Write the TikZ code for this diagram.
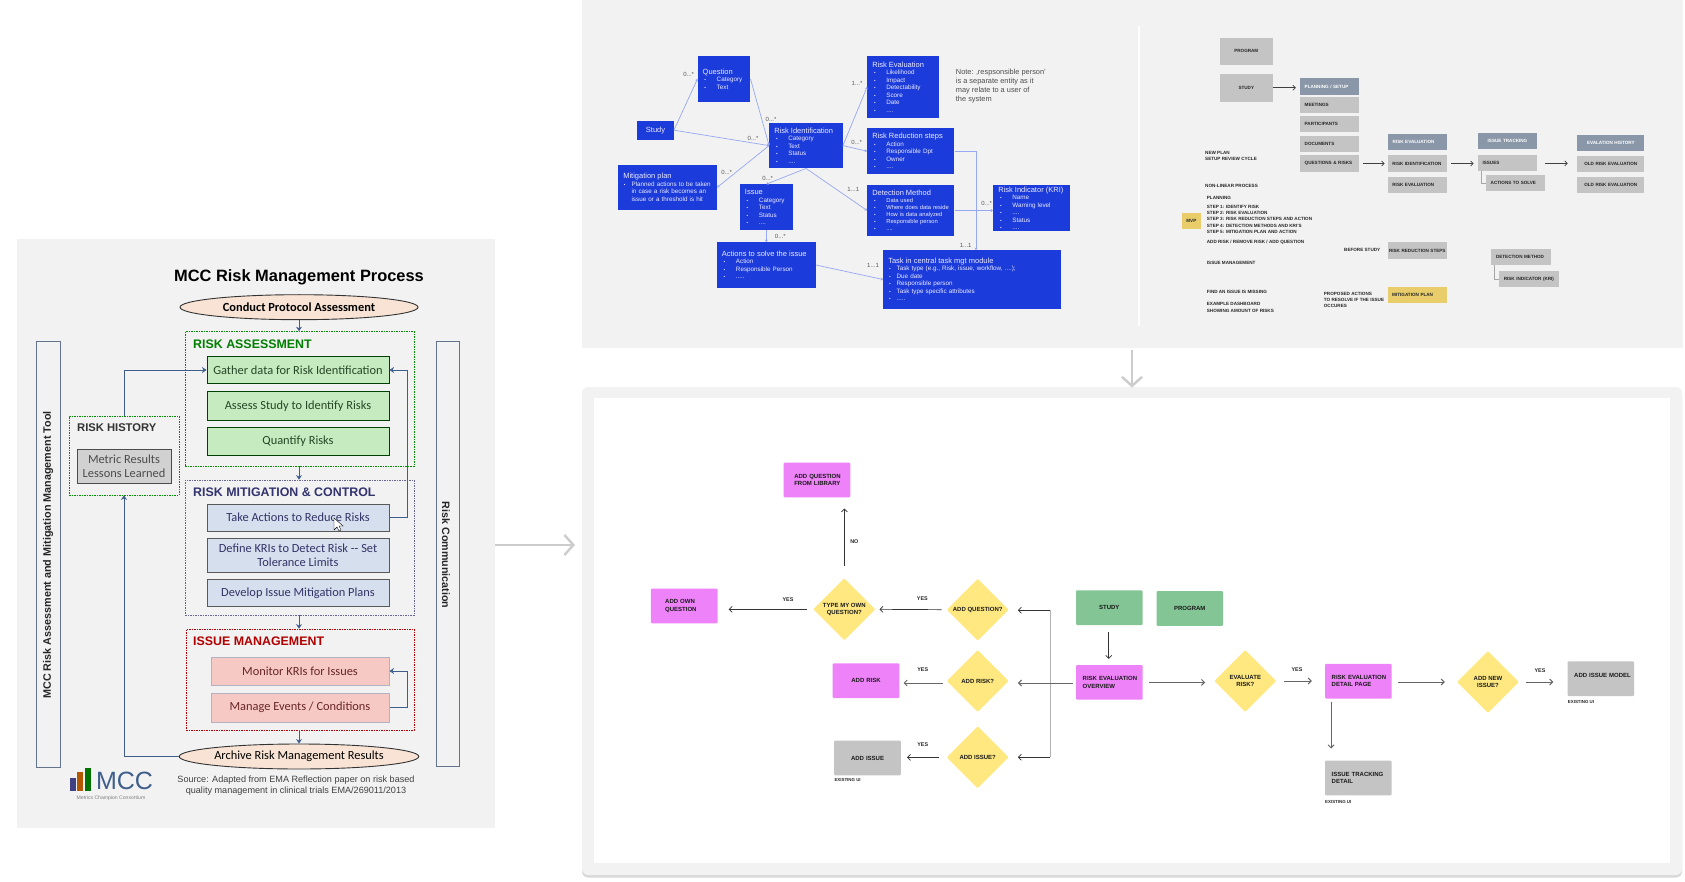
\documentclass[tikz,border=0pt]{standalone}
\usepackage{fontspec}
\setmainfont{Liberation Sans}
\newfontfamily\calibrifont{Carlito}
\usepackage{tikz}
\usetikzlibrary{arrows.meta,shapes.geometric,shadows}
\definecolor{panelgray}{RGB}{242,242,242}
\definecolor{uglyblue}{RGB}{28,59,219}
\definecolor{linkblue}{RGB}{150,168,242}
\definecolor{tilegray}{RGB}{196,196,196}
\definecolor{headslate}{RGB}{138,151,168}
\definecolor{softyellow}{RGB}{232,205,106}
\definecolor{softpink}{RGB}{238,130,248}
\definecolor{softgreen}{RGB}{131,197,148}
\definecolor{softsand}{RGB}{255,232,128}
\definecolor{mccblue}{RGB}{63,94,140}
\definecolor{mccbar}{RGB}{100,115,140}
\definecolor{mccgreen}{RGB}{198,235,192}
\definecolor{mccsteel}{RGB}{213,223,238}
\definecolor{mccred}{RGB}{246,201,197}
\definecolor{mccsand}{RGB}{248,227,212}
\newcommand{\ttl}[1]{{\fontsize{7.5}{8}\selectfont #1}}
\newcommand{\dotb}{{\fontsize{4.6}{4}\selectfont\textbullet}}
\newcommand{\itm}[1]{\hspace*{1.7pt}\makebox[12.3pt][l]{\dotb}#1}
\newcommand{\itmb}[1]{\hspace*{0.7pt}\makebox[7.6pt][l]{\dotb}#1}
\tikzset{
  entity/.style={fill=uglyblue, text=white!92!blue, inner xsep=5pt, inner ysep=0pt, align=left,
                 font=\fontsize{6.3}{7.5}\selectfont},
  link/.style={-{Stealth[length=2.4pt,width=3pt]}, linkblue, line width=0.7pt},
  mult/.style={font=\fontsize{6}{7}\selectfont, text=black!65, inner sep=0pt},
  tile/.style={fill=tilegray, text=black!85, inner xsep=4.7pt, inner ysep=0pt, minimum height=16.3pt,
               text width=50pt, align=left, font=\fontsize{4.6}{6}\selectfont\bfseries},
  tilehead/.style={tile, fill=headslate, text=white},
  remark/.style={anchor=west, inner sep=0pt, text=black!85, align=left, font=\fontsize{4.6}{6.2}\selectfont\bfseries},
  thin arrow/.style={-{Straight Barb[length=2.5pt,width=5pt]}, black!75, line width=0.7pt},
  flowbox/.style={rounded corners=1pt, minimum width=66.6pt, minimum height=34.6pt, inner ysep=0pt, inner xsep=6.7pt,
                  text width=53.2pt, align=left, text=black!90, font=\fontsize{6}{7.3}\selectfont\bfseries},
  pagebox/.style={flowbox, fill=softpink},
  startbox/.style={flowbox, fill=softgreen, align=center},
  oldbox/.style={flowbox, fill=tilegray},
  decision/.style={diamond, aspect=1, rounded corners=1pt, fill=softsand, minimum width=62pt, minimum height=62pt,
                   inner sep=0pt, align=center, text=black!90, font=\fontsize{6}{7.3}\selectfont\bfseries},
  flowlink/.style={-{Straight Barb[length=3pt,width=6pt]}, black!80, line width=0.7pt},
  flowlinkgray/.style={flowlink, black!60, line width=1pt},
  yes/.style={font=\fontsize{5.4}{6}\selectfont\bfseries, text=black!85, inner sep=0pt},
  bigarrow/.style={-{Straight Barb[length=9pt,width=20pt]}, black!20, line width=2.4pt},
  stepbox/.style={draw=black!70, line width=1pt, minimum width=182pt, inner sep=0pt, align=center,
                  text=black!70, font=\calibrifont\fontsize{12.4}{14}\selectfont},
  greenbox/.style={stepbox, fill=mccgreen, draw=green!25!black, text=green!15!black!85},
  steelbox/.style={stepbox, fill=mccsteel, draw=black!65, text=blue!25!black!80},
  redbox/.style={stepbox, fill=mccred, draw=blue!20!black!30, text=red!30!black!85, minimum width=178pt},
  endcap/.style={ellipse, draw=black!80, line width=0.9pt, fill=mccsand, minimum width=238pt, minimum height=25pt,
                 inner sep=0pt, font=\calibrifont\fontsize{12.4}{14}\selectfont},
  zone/.style={draw, dash pattern=on 1.5pt off 1pt, line width=0.7pt, inner sep=0pt},
  zonehead/.style={anchor=west, inner sep=0pt, font=\fontsize{12.4}{14}\selectfont\bfseries},
  sidebar/.style={draw=mccbar, line width=1pt, inner sep=0pt},
  sidetext/.style={inner sep=0pt, font=\fontsize{10.8}{12}\selectfont\bfseries, text=black!85},
  mccarrow/.style={-{Stealth[length=4.5pt,width=6pt]}, mccblue, line width=0.8pt},
}
\begin{document}
\begin{tikzpicture}[x=1pt,y=-1pt]
\useasboundingbox (0,0) rectangle (1685,882);
\fill[white] (0,0) rectangle (1685,882);

\fill[panelgray] (17,239) rectangle (495,828);
\node[inner sep=0pt, font=\fontsize{16.4}{18}\selectfont\bfseries] (mcctitle) at (299,277.5) {MCC Risk Management Process};
\node[endcap] (conduct) at (299,307.2) {\textbf{Conduct Protocol Assessment}};
\node[zone, draw=green!55!black, minimum width=229pt, minimum height=134.5pt] (assess) at (299.5,398.8) {};
\node[zone, draw=blue!30!black!60, minimum width=229pt, minimum height=135pt] (mitig) at (299.5,547.5) {};
\node[zone, draw=red!70!black, minimum width=228pt, minimum height=101pt] (issuezone) at (300,679.5) {};
\node[zonehead, text=green!50!black] (assesshead) at (193,344.5) {RISK ASSESSMENT};
\node[zonehead, text=blue!30!black!80] (mitighead) at (193,492.5) {RISK MITIGATION \& CONTROL};
\node[zonehead, text=red!70!black] (issuehead) at (193,641.5) {ISSUE MANAGEMENT};
\node[greenbox, minimum height=27.6pt] (gather) at (298,370) {Gather data for Risk Identification};
\node[greenbox, minimum height=28.5pt] (studyrisks) at (298,406) {Assess Study to Identify Risks};
\node[greenbox, minimum height=28pt] (quantify) at (298,441.2) {Quantify Risks};
\node[steelbox, minimum height=27pt] (reduce) at (298,517.5) {Take Actions to Reduce Risks};
\node[steelbox, minimum height=33.5pt] (kris) at (298,555.3) {Define KRIs to Detect Risk -- Set\\Tolerance Limits};
\node[steelbox, minimum height=27pt] (plans) at (298,593) {Develop Issue Mitigation Plans};
\node[redbox, minimum height=28pt] (monitor) at (300,671) {Monitor KRIs for Issues};
\node[redbox, minimum height=29pt] (manage) at (300,707.5) {Manage Events / Conditions};
\node[endcap] (archive) at (299,756.5) {Archive Risk Management Results};
\node[zone, draw=green!55!black, minimum width=110pt, minimum height=79pt] (history) at (124,455.5) {};
\node[zonehead, text=black!80, font=\fontsize{11.2}{13}\selectfont\bfseries] (historyhead) at (77,428) {RISK HISTORY};
\node[stepbox, fill=black!18, minimum width=94pt, minimum height=34pt] (lessons) at (124,466.6) {Metric Results\\Lessons Learned};
\node[sidebar, minimum width=24pt, minimum height=426pt] (leftbar) at (48,554.5) {};
\node[sidebar, minimum width=23pt, minimum height=424.5pt] (rightbar) at (447.5,553.8) {};
\node[sidetext, rotate=90] (lefttext) at (48,555) {MCC Risk Assessment and Mitigation Management Tool};
\node[sidetext, rotate=-90, font=\fontsize{10.7}{12}\selectfont\bfseries] (righttext) at (446,555) {Risk Communication};
\foreach \a/\b in {conduct/assess, assess/mitig, mitig/issuezone, issuezone/archive}
  \draw[mccarrow] (\a.south -| conduct) -- (\b.north -| conduct);
\coordinate (historyup) at (gather.west -| history.north);
\coordinate (reducebend) at (407,517.5);
\coordinate (managebend) at (407,707.5);
\draw[mccarrow] (history.north) -- (historyup) -- (gather.west);
\draw[mccarrow] (reduce.east) -- (reducebend) -- (reducebend |- gather.east) -- (gather.east);
\draw[mccarrow] (manage.east) -- (managebend) -- (managebend |- monitor.east) -- (monitor.east);
\draw[mccarrow] (archive.west) -- (archive.west -| history.south) -- (history.south);
\draw[fill=white, line width=0.4pt, shift={(334,518)}] (0,0) -- (0,12) -- (3,9) -- (5,13) -- (7,12) -- (5,8) -- (9,8) -- cycle;
\fill[blue!35!black!75] (70,777.5) rectangle (76,791);
\fill[orange!70!black] (77,772) rectangle (83,791);
\fill[green!45!black] (85,767.5) rectangle (91,791);
\node[inner sep=0pt, text=mccblue, font=\fontsize{25}{26}\selectfont] (mcclogo) at (124.5,781) {MCC};
\node[inner sep=0pt, text=black!50, font=\fontsize{5.1}{6}\selectfont] (mccname) at (111,798) {Metrics Champion Consortium};
\node[inner sep=0pt, align=center, text=black!75, font=\fontsize{9.1}{11}\selectfont] (source) at (296,786) {Source: Adapted from EMA Reflection paper on risk based\\quality management in clinical trials EMA/269011/2013};

\coordinate (bigfrom) at (495,545);
\coordinate (bigto) at (575,545);
\draw[bigarrow] (bigfrom) -- (bigto);

\fill[panelgray] (582,0) rectangle (1683,348);
\draw[white, line width=2pt] (1139,26) -- (1139,326);
\node[entity, text width=42.6pt, minimum height=45.7pt] (question) at (724,78.9) {\ttl{Question}\\\itm{Category}\\\itm{Text}};
\node[entity, minimum width=36.4pt, minimum height=19pt, align=center, font=\fontsize{7.5}{8}\selectfont] (study) at (655.5,130.2) {Study};
\node[entity, text width=88.7pt, minimum height=45.3pt] (mitigation) at (667.6,187.4) {\ttl{Mitigation plan}\\\itmb{Planned actions to be taken}\\\hspace*{8.3pt}in case a risk becomes an\\\hspace*{8.3pt}issue or a threshold is hit};
\node[entity, text width=63.4pt, minimum height=45.3pt] (riskid) at (806,145.6) {\ttl{Risk Identification}\\\itm{Category}\\\itm{Text}\\\itm{Status}\\\itm{....}};
\node[entity, text width=42.7pt, minimum height=45.7pt] (issue) at (766.3,207.2) {\ttl{Issue}\\\itm{Category}\\\itm{Text}\\\itm{Status}\\\itm{....}};
\node[entity, text width=88.7pt, minimum height=45.4pt] (actions) at (766.3,265) {\ttl{Actions to solve the issue}\\\itm{Action}\\\itm{Responsible Person}\\\itm{.....}};
\node[entity, text width=62pt, minimum height=62pt] (riskeval) at (903.3,87) {\ttl{Risk Evaluation}\\\itm{Likelihood}\\\itm{Impact}\\\itm{Detectability}\\\itm{Score}\\\itm{Date}\\\itm{....}};
\node[entity, text width=77pt, minimum height=45.7pt] (reduction) at (910.8,151.2) {\ttl{Risk Reduction steps}\\\itm{Action}\\\itm{Responsible Dpt}\\\itm{Owner}\\\itm{....}};
\node[entity, text width=77pt, minimum height=51pt, font=\fontsize{5.8}{7}\selectfont] (detection) at (910.8,210.5) {\ttl{Detection Method}\\\itm{Data used}\\\itm{Where does data reside}\\\itm{How is data analyzed}\\\itm{Responsible person}\\\itm{....}};
\node[entity, text width=67pt, minimum height=46.3pt] (indicator) at (1031.8,208.2) {\ttl{Risk Indicator (KRI)}\\\itm{Name}\\\itm{Warning level}\\\itm{....}\\\itm{Status}\\\itm{....}};
\node[entity, text width=167.4pt, minimum height=58.4pt] (tasktool) at (972,279.5) {\ttl{Task in central task mgt module}\\\itmb{Task type (e.g., Risk, issue, workflow, ....);}\\\itmb{Due date}\\\itmb{Responsible person}\\\itmb{Task type specific attributes}\\\itmb{.....}};
\node[anchor=north west, inner sep=0pt, align=left, text=black!70, font=\fontsize{7.4}{9.1}\selectfont] (note) at (955.7,68.5) {Note: ‚respsonsible person’\\is a separate entity as it\\may relate to a user of\\the system};
\coordinate (reductionbend) at (976,151.2);
\coordinate (kritarget) at (detection.east -| indicator.west);
\draw[link] (study.east) -- (question.west);
\draw[link] (study.east) -- (riskid.west);
\draw[link] (question.east) -- (riskid.west);
\draw[link] (riskid.west) -- (mitigation.east);
\draw[link] (riskid.south) -- (issue.north);
\draw[link] (riskid.south) -- (detection.west);
\draw[link] (riskid.east) -- (riskeval.west);
\draw[link] (riskid.east) -- (reduction.west);
\draw[link] (issue.south) -- (actions.north);
\draw[link] (actions.east) -- (tasktool.west);
\draw[link] (reduction.east) -- (reductionbend) -- (reductionbend |- tasktool.north);
\draw[link] (detection.east) -- (kritarget);
\foreach \nm/\xpos/\ypos/\txt in {m1/688.7/74.3/{0...*}, m2/771/119.3/{0...*}, m3/753/138.7/{0...*}, m4/726.7/172.3/{0...*},
  m5/767.7/178.7/{0...*}, m6/780.3/236/{0...*}, m7/857/83.7/{1...*}, m8/856.7/142.7/{0...*}, m9/853.3/189.7/{1...1},
  m10/986.7/203.7/{0...*}, m11/965.7/245.3/{1...1}, m12/873/265.3/{1...1}}
  \node[mult] (\nm) at (\xpos,\ypos) {\txt};

\node[tile, align=center, text width=43.3pt, minimum height=27.4pt] (topprogram) at (1246.3,51.3) {PROGRAM};
\node[tile, align=center, text width=43.3pt, minimum height=27.7pt] (topstudy) at (1246.3,87.8) {STUDY};
\node[tilehead] (planning) at (1329.7,86.5) {PLANNING / SETUP};
\node[tile] (meetings) at (1329.7,104.7) {MEETINGS};
\node[tile] (participants) at (1329.7,124.2) {PARTICIPANTS};
\node[tile] (documents) at (1329.7,144) {DOCUMENTS};
\node[tile] (questionsrisks) at (1329.7,163.5) {QUESTIONS \& RISKS};
\node[tilehead] (evalhead) at (1417.7,142.2) {RISK EVALUATION};
\node[tile] (evalident) at (1417.4,163.5) {\mbox{RISK IDENTIFICATION}};
\node[tile] (evaleval) at (1417.4,184.7) {RISK EVALUATION};
\node[tilehead, align=center] (trackhead) at (1507.5,141.3) {ISSUE TRACKING};
\node[tile] (trackissues) at (1507.5,162.7) {ISSUES};
\node[tile] (tracksolve) at (1515.7,183.2) {ACTIONS TO SOLVE};
\node[tilehead, align=center, text width=57.6pt] (historyhead2) at (1610.8,143) {EVALATION HISTORY};
\node[tile, align=center, text width=57.6pt] (oldone) at (1610.8,164.3) {OLD RISK EVALUATION};
\node[tile, align=center, text width=57.6pt] (oldtwo) at (1610.8,184.8) {OLD RISK EVALUATION};
\node[tile, fill=softyellow, text width=9.9pt] (mvp) at (1191.3,221.2) {MVP};
\node[tile, inner xsep=1.5pt, text width=56.3pt] (topreduction) at (1417.2,250.5) {\mbox{RISK REDUCTION STEPS}};
\node[tile, fill=softyellow] (topmitigation) at (1417.2,295) {MITIGATION PLAN};
\node[tile] (topdetection) at (1521,256.8) {DETECTION METHOD};
\node[tile] (topindicator) at (1528.8,279) {\mbox{RISK INDICATOR (KRI)}};
\foreach \nm/\xpos/\ypos/\txt in {r1/1205/152.7/{NEW PLAN}, r2/1205/159/{SETUP REVIEW CYCLE}, r3/1205/186/{NON-LINEAR PROCESS},
  r4/1206.7/198/{PLANNING}, r5/1206.7/207.3/{STEP 1: IDENTIFY RISK}, r6/1206.7/213.3/{STEP 2: RISK EVALUATION},
  r7/1206.7/219.3/{STEP 3: RISK REDUCTION STEPS AND ACTION}, r8/1206.7/225.7/{STEP 4: DETECTION METHODS AND KRI'S},
  r9/1206.7/231.7/{STEP 5: MITIGATION PLAN AND ACTION}, r10/1206.7/242/{ADD RISK / REMOVE RISK / ADD QUESTION},
  r11/1206.7/263.3/{ISSUE MANAGEMENT}, r12/1206.7/292.3/{FIND AN ISSUE IS MISSING}, r13/1206.7/304.3/{EXAMPLE DASHBOARD},
  r14/1206.7/310.7/{SHOWING AMOUNT OF RISKS}, r15/1344/250.3/{BEFORE STUDY}, r16/1323.7/293.7/{PROPOSED ACTIONS},
  r17/1323.7/300/{TO RESOLVE IF THE ISSUE}, r18/1323.7/306/{OCCURES}}
  \node[remark] (\nm) at (\xpos,\ypos) {\txt};
\coordinate (tracktoold) at (1567.7,163.3);
\coordinate (trackfrom) at (1545.3,163.3);
\draw[thin arrow, shorten <=0.5pt, shorten >=4pt] (topstudy.east) -- (topstudy.east -| planning.west);
\draw[thin arrow, shorten <=3pt, shorten >=3pt] (questionsrisks.east) -- (evalident.west);
\draw[thin arrow, shorten <=3.5pt, shorten >=4pt] (evalident.east) -- (trackissues.west |- evalident.east);
\draw[thin arrow] (trackfrom) -- (tracktoold);
\draw[black!35, line width=0.9pt] (trackissues.south -| 1481.7,0) |- (tracksolve.west);
\draw[black!35, line width=0.9pt] (topdetection.south -| 1494.3,0) |- (topindicator.west);

\coordinate (downfrom) at (1132,350);
\coordinate (downto) at (1132,387.5);
\fill[panelgray, rounded corners=6pt, drop shadow={shadow xshift=0pt, shadow yshift=-2.5pt, opacity=0.3}] (582,387) rectangle (1682,875);
\draw[bigarrow] (downfrom) -- (downto);
\fill[white] (594,398) rectangle (1670,863);

\node[pagebox, inner xsep=10.6pt, text width=45.4pt] (fromlibrary) at (817,480) {\mbox{ADD QUESTION}\\\mbox{FROM LIBRARY}};
\node[pagebox, inner xsep=14.3pt, text width=38pt] (ownquestion) at (684.2,606) {ADD OWN QUESTION};
\node[pagebox, align=center] (addrisk) at (866,680.7) {ADD RISK};
\node[oldbox, align=center] (addissue) at (867.5,758) {ADD ISSUE};
\node[decision] (typeown) at (844.3,609.3) {TYPE MY OWN\\QUESTION?};
\node[decision] (addquestion) at (977.7,609.7) {ADD QUESTION?};
\node[decision] (riskq) at (977.7,681) {ADD RISK?};
\node[decision] (issueq) at (977.7,757.3) {ADD ISSUE?};
\node[startbox] (flowstudy) at (1109.3,607.7) {STUDY};
\node[startbox] (flowprogram) at (1189.8,608.5) {PROGRAM};
\node[pagebox] (overview) at (1109.3,682.4) {\mbox{RISK EVALUATION}\\OVERVIEW};
\node[decision] (evaluate) at (1245.3,681) {EVALUATE\\RISK?};
\node[pagebox] (detailpage) at (1358.3,681.2) {\mbox{RISK EVALUATION}\\DETAIL PAGE};
\node[decision] (newissue) at (1488,682) {ADD NEW\\ISSUE?};
\node[oldbox, align=center] (issuemodel) at (1600.8,678.7) {\raisebox{7pt}{ADD ISSUE MODEL}};
\node[oldbox] (trackingdetail) at (1358.3,778) {ISSUE TRACKING DETAIL};
\node[yes] (y1) at (788,599.3) {YES};
\node[yes] (y2) at (922.3,598.7) {YES};
\node[yes] (y3) at (922.7,670) {YES};
\node[yes] (y4) at (922.7,744.3) {YES};
\node[yes] (y5) at (1297,670) {YES};
\node[yes] (y6) at (1540,671) {YES};
\node[yes] (n1) at (854.3,541.3) {NO};
\foreach \nm/\xpos/\ypos in {e1/834.3/780.3, e2/1567.7/702, e3/1325/801.7}
  \node[remark, font=\fontsize{4.4}{5}\selectfont\bfseries] (\nm) at (\xpos,\ypos) {EXISTING UI};
\coordinate (junctop) at (1050.3,610.3);
\coordinate (juncmid) at (1050.3,683);
\coordinate (juncbot) at (1050.3,757.3);
\draw[black!30, line width=0.8pt] (junctop) -- (juncbot);
\draw[flowlink, shorten <=5pt, shorten >=11pt] (typeown.north) ++(0,-7) -- (fromlibrary.south -| typeown.north);
\draw[flowlink, shorten <=5pt, shorten >=4pt] (addquestion.west) -- (typeown.east);
\draw[flowlink, shorten <=6pt, shorten >=11pt] (typeown.west) -- (ownquestion.east |- typeown.west);
\draw[flowlink, shorten >=9pt] (junctop) -- (addquestion.east |- junctop);
\draw[flowlinkgray, shorten <=3pt, shorten >=9pt] (overview.west |- juncmid) -- (riskq.east |- juncmid);
\draw[flowlinkgray, shorten <=4pt, shorten >=4pt] (riskq.west |- juncmid) -- (addrisk.east |- juncmid);
\draw[flowlink, shorten >=9pt] (juncbot) -- (issueq.east);
\draw[flowlink, shorten <=8pt, shorten >=6pt] (issueq.west) -- (addissue.east |- issueq.west);
\draw[flowlink, shorten <=7pt, shorten >=6pt] (flowstudy.south -| 1108.7,0) -- (overview.north -| 1108.7,0);
\draw[flowlinkgray, shorten <=6pt, shorten >=9pt] (overview.east) -- (evaluate.west |- overview.east);
\draw[flowlinkgray, shorten <=7pt, shorten >=13pt] (evaluate.east) -- (detailpage.west |- evaluate.east);
\draw[flowlinkgray, shorten <=6pt, shorten >=12pt] (detailpage.east |- newissue.west) -- (newissue.west);
\draw[flowlinkgray, shorten <=7pt, shorten >=14pt] (newissue.east) -- (issuemodel.west |- newissue.east);
\draw[flowlinkgray, shorten <=3pt, shorten >=12pt] (detailpage.south -| 1331,0) -- (trackingdetail.north -| 1331,0);
\end{tikzpicture}
\end{document}
